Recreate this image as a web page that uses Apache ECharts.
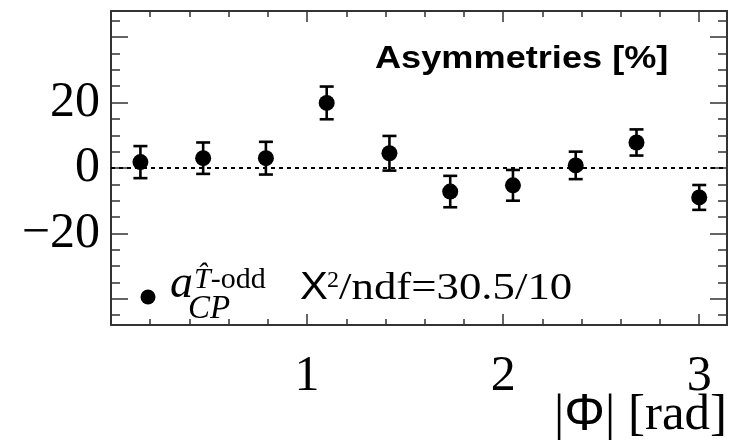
<!DOCTYPE html>
<html>
<head>
<meta charset="utf-8">
<script src="https://cdn.jsdelivr.net/npm/echarts@6/dist/echarts.min.js"></script>
<style>
  html, body { margin: 0; padding: 0; background: #fff; }
  #chart { width: 735px; height: 440px; }
</style>
</head>
<body>
<div id="chart"></div>
<script>
// |Phi| bin centres [rad], T-odd CP asymmetry [%] and its uncertainty
const phi = [0.15, 0.47, 0.79, 1.10, 1.42, 1.73, 2.05, 2.37, 2.68, 3.00];
const asym = [1.8, 3.0, 3.0, 19.9, 4.5, -7.2, -5.3, 0.8, 7.8, -9.0];
const asymErr = [4.9, 4.8, 5.0, 5.0, 5.3, 4.8, 4.7, 4.2, 4.0, 3.8];

// axis ticks and labels
const xLabels = [1, 2, 3];
const xMinor = [0.2, 0.4, 0.6, 0.8, 1.2, 1.4, 1.6, 1.8, 2.2, 2.4, 2.6, 2.8];
const yLabels = [-20, 0, 20];
const yMajor = [-40, -20, 0, 20, 40];
const yMinor = [-45, -35, -30, -25, -15, -10, -5, 5, 10, 15, 25, 30, 35, 45];

const X_MIN = 0, X_MAX = Math.PI;
const Y_MIN = -48, Y_MAX = 48;

const frame = '#333';
const serif = '"Liberation Serif", "Times New Roman", serif';
const sans = '"Liberation Sans", Arial, sans-serif';

function baseAxis(position, min, max, ticks, len, opts) {
  return Object.assign({
    type: 'value', position, min, max,
    axisLine: { show: false, onZero: false },
    axisTick: { show: true, inside: true, length: len, customValues: ticks,
                lineStyle: { color: frame, width: 1.5 } },
    axisLabel: { show: false },
    splitLine: { show: false }
  }, opts || {});
}
const xAx = (pos, ticks, len, opts) => baseAxis(pos, X_MIN, X_MAX, ticks, len, opts);
const yAx = (pos, ticks, len, opts) => baseAxis(pos, Y_MIN, Y_MAX, ticks, len, opts);

const frameLine = { show: true, onZero: false, lineStyle: { color: frame, width: 2 } };

function label(x, y, text, font, extra) {
  return Object.assign({
    type: 'text', x, y,
    style: {
      text, font, fill: '#000',
      align: 'left', verticalAlign: 'middle', textAlign: 'left', textVerticalAlign: 'middle'
    }
  }, extra || {});
}

const option = {
  animation: false,
  backgroundColor: '#fff',
  grid: { left: 111, right: 8, top: 11, bottom: 115, containLabel: false },
  xAxis: [
    xAx('bottom', xLabels, 11, {
      axisLine: frameLine,
      axisLabel: { show: true, customValues: xLabels, margin: 27,
                   fontFamily: serif, fontSize: 50, color: '#000' }
    }),
    xAx('bottom', xMinor, 6),
    xAx('top', xLabels, 11, { axisLine: frameLine }),
    xAx('top', xMinor, 6)
  ],
  yAxis: [
    yAx('left', yMajor, 17, {
      axisLine: frameLine,
      axisLabel: { show: true, customValues: yLabels, margin: 11,
                   fontFamily: serif, fontSize: 50, color: '#000',
                   formatter: v => (v < 0 ? '\u2212' + Math.abs(v) : String(v)) }
    }),
    yAx('left', yMinor, 9),
    yAx('right', yMajor, 17, { axisLine: frameLine }),
    yAx('right', yMinor, 9)
  ],
  legend: {
    data: ['asym'],
    left: 140.5, top: 289.5, padding: 0,
    icon: 'circle', itemWidth: 15, itemHeight: 15,
    formatter: () => '',
    selectedMode: false
  },
  series: [
    {
      type: 'custom',
      name: 'err',
      xAxisIndex: 0, yAxisIndex: 0,
      data: phi.map((p, i) => [p, asym[i], asymErr[i]]),
      renderItem: (params, api) => {
        const x = api.value(0), y = api.value(1), e = api.value(2);
        const hi = api.coord([x, y + e]);
        const lo = api.coord([x, y - e]);
        const hw = 7;
        const st = { stroke: '#000', lineWidth: 2.6 };
        return {
          type: 'group',
          children: [
            { type: 'line', shape: { x1: hi[0], y1: hi[1], x2: lo[0], y2: lo[1] }, style: st },
            { type: 'line', shape: { x1: hi[0] - hw, y1: hi[1], x2: hi[0] + hw, y2: hi[1] }, style: st },
            { type: 'line', shape: { x1: lo[0] - hw, y1: lo[1], x2: lo[0] + hw, y2: lo[1] }, style: st }
          ]
        };
      },
      z: 3
    },
    {
      type: 'scatter',
      name: 'asym',
      xAxisIndex: 0, yAxisIndex: 0,
      data: phi.map((p, i) => [p, asym[i]]),
      symbol: 'circle',
      symbolSize: 16,
      itemStyle: { color: '#000', opacity: 1 },
      z: 4,
      markLine: {
        silent: true,
        symbol: ['none', 'none'],
        label: { show: false },
        lineStyle: { color: '#000', width: 2, type: [4, 4], opacity: 1 },
        data: [{ yAxis: 0 }]
      }
    }
  ],
  graphic: [
    label(375, 59, 'Asymmetries [%]', 'bold 32px ' + sans, { scaleX: 1.13 }),
    // legend entry: a_CP^{T-odd}
    label(170, 285, 'a', 'italic 46px ' + serif),
    label(194, 280, '', '', {
      style: {
        text: '{i|T\u0302}{r|-odd}', fill: '#000',
        align: 'left', verticalAlign: 'middle', textAlign: 'left', textVerticalAlign: 'middle',
        rich: {
          i: { font: 'italic 30px ' + serif, fill: '#000' },
          r: { font: '30px ' + serif, fill: '#000' }
        }
      }
    }),
    label(188, 309, 'CP', 'italic 33px ' + serif),
    // fit quality
    label(300, 289, '\u03A7', '38px ' + sans, { scaleX: 1.1 }),
    label(327, 281, '2', '24px ' + serif, { scaleX: 1.0 }),
    label(339, 289, '/ndf=30.5/10', '38px ' + serif, { scaleX: 1.18 }),
    // x axis title
    {
      type: 'text', x: 727, y: 416,
      style: {
        text: '|{s|\u03A6}| [rad]', font: '51px ' + serif, fill: '#000',
        align: 'right', verticalAlign: 'middle', textAlign: 'right', textVerticalAlign: 'middle',
        rich: { s: { font: '51px ' + sans, fill: '#000' } }
      }
    }
  ]
};

const chart = echarts.init(document.getElementById('chart'), null, { renderer: 'canvas' });
chart.setOption(option);
</script>
</body>
</html>
